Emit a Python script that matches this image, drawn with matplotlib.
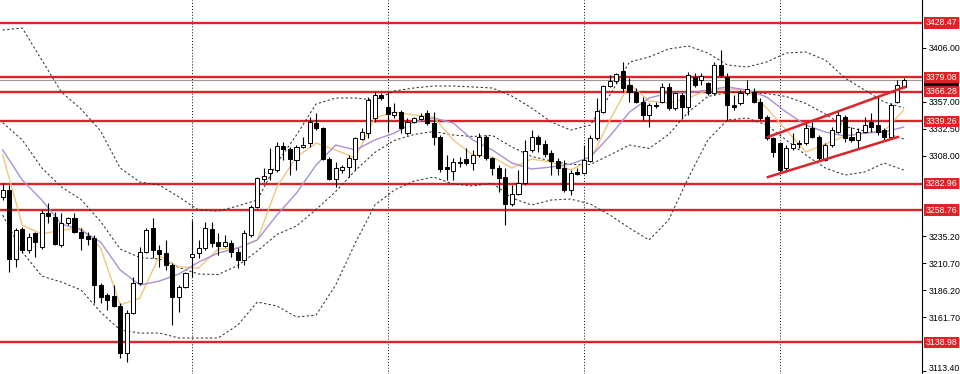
import numpy as np
import matplotlib
matplotlib.use("Agg")
import matplotlib.pyplot as plt
import matplotlib.transforms as mtransforms

plt.rcParams['font.family'] = ['Liberation Sans', 'DejaVu Sans']

# daily candles (open, high, low, close)
opens = [3270.7, 3277.1, 3214.5, 3241.7, 3222.7, 3238.1, 3225.4, 3256.2, 3252.6, 3227.2,
         3247.2, 3251.7, 3239.0, 3235.4, 3233.6, 3191.0, 3181.9, 3181.0, 3172.0, 3129.4,
         3165.6, 3192.8, 3220.9, 3242.6, 3222.7, 3220.0, 3209.1, 3180.1, 3189.2, 3216.4,
         3220.0, 3224.5, 3241.7, 3229.9, 3226.3, 3229.0, 3220.9, 3213.6, 3236.3, 3261.7,
         3287.0, 3292.5, 3295.2, 3316.9, 3314.2, 3304.2, 3316.0, 3319.6, 3337.8, 3333.2,
         3305.1, 3287.0, 3295.2, 3297.9, 3305.1, 3323.3, 3328.7, 3342.3, 3363.1, 3352.3,
         3345.0, 3347.7, 3328.7, 3338.7, 3341.4, 3346.8, 3337.8, 3325.1, 3297.9, 3294.3,
         3301.5, 3305.1, 3301.5, 3308.8, 3325.1, 3306.1, 3297.0, 3288.8, 3264.4, 3273.4,
         3283.4, 3313.3, 3325.1, 3318.7, 3310.6, 3303.3, 3297.0, 3277.1, 3293.4, 3292.5,
         3303.3, 3324.2, 3347.7, 3371.3, 3375.8, 3384.9, 3372.2, 3365.8, 3356.8, 3345.0,
         3354.1, 3356.8, 3370.4, 3351.4, 3363.1, 3352.3, 3379.4, 3376.7, 3374.0, 3364.9,
         3390.3, 3379.4, 3354.1, 3355.9, 3364.9, 3365.8, 3356.8, 3343.2, 3324.2, 3319.6,
         3297.0, 3315.1, 3319.6, 3319.6, 3333.2, 3325.1, 3304.2, 3317.8, 3329.6, 3343.2,
         3325.1, 3322.4, 3329.6, 3338.7, 3336.0, 3331.4, 3325.1, 3356.8, 3370.4]
highs = [3283.4, 3281.6, 3242.6, 3243.5, 3238.1, 3239.0, 3258.9, 3265.3, 3257.1, 3256.2,
         3252.6, 3256.2, 3242.6, 3239.0, 3236.3, 3192.8, 3183.7, 3191.0, 3174.7, 3168.3,
         3198.2, 3225.4, 3242.6, 3251.7, 3227.2, 3231.8, 3210.9, 3191.0, 3202.8, 3249.9,
         3231.8, 3248.1, 3248.1, 3238.1, 3236.3, 3231.8, 3224.5, 3240.8, 3263.5, 3288.8,
         3297.0, 3315.1, 3320.5, 3320.5, 3316.0, 3317.8, 3325.1, 3343.2, 3346.8, 3334.1,
         3307.0, 3302.4, 3299.7, 3308.8, 3325.1, 3333.2, 3361.3, 3365.8, 3364.9, 3365.8,
         3355.9, 3349.5, 3342.3, 3343.2, 3346.8, 3349.5, 3347.7, 3326.9, 3308.8, 3306.1,
         3307.0, 3315.1, 3313.3, 3328.7, 3326.9, 3307.0, 3299.7, 3297.0, 3281.6, 3295.2,
         3322.4, 3331.4, 3326.9, 3322.4, 3313.3, 3306.1, 3304.2, 3295.2, 3297.0, 3317.8,
         3326.9, 3360.4, 3372.2, 3381.2, 3383.1, 3393.0, 3378.5, 3369.5, 3361.3, 3355.9,
         3356.8, 3374.0, 3374.0, 3365.8, 3364.9, 3384.0, 3383.1, 3383.1, 3374.9, 3393.0,
         3403.9, 3383.1, 3363.1, 3367.7, 3376.7, 3369.5, 3360.4, 3345.0, 3325.1, 3320.5,
         3317.8, 3328.7, 3322.4, 3338.7, 3338.7, 3326.9, 3319.6, 3334.1, 3349.5, 3345.0,
         3334.1, 3333.2, 3343.2, 3346.8, 3360.4, 3333.2, 3355.9, 3376.7, 3378.5]
lows = [3268.0, 3202.8, 3207.3, 3220.0, 3220.0, 3216.4, 3223.6, 3247.2, 3227.2, 3225.4,
        3245.3, 3238.1, 3222.7, 3227.2, 3174.7, 3174.7, 3168.3, 3171.1, 3124.9, 3121.2,
        3164.7, 3191.0, 3220.0, 3215.5, 3207.3, 3204.6, 3154.7, 3166.5, 3188.3, 3198.2,
        3215.5, 3222.7, 3225.4, 3218.2, 3225.4, 3216.4, 3206.4, 3209.1, 3234.5, 3260.8,
        3284.3, 3286.1, 3293.4, 3304.2, 3290.6, 3295.2, 3315.1, 3316.0, 3331.4, 3304.2,
        3286.1, 3279.8, 3292.5, 3288.8, 3295.2, 3322.4, 3324.2, 3338.7, 3358.6, 3329.6,
        3342.3, 3328.7, 3326.9, 3337.8, 3340.5, 3335.9, 3317.8, 3293.4, 3286.1, 3286.1,
        3297.9, 3299.7, 3295.2, 3307.0, 3304.2, 3290.6, 3275.2, 3245.3, 3262.6, 3272.5,
        3281.6, 3311.5, 3311.5, 3307.0, 3290.6, 3290.6, 3275.2, 3272.5, 3290.6, 3291.6,
        3302.4, 3322.4, 3346.8, 3370.4, 3374.0, 3365.8, 3356.8, 3355.9, 3340.5, 3334.1,
        3351.4, 3355.9, 3349.5, 3349.5, 3342.3, 3345.0, 3370.4, 3372.2, 3363.1, 3363.1,
        3379.4, 3340.5, 3349.5, 3354.1, 3363.1, 3355.9, 3340.5, 3322.4, 3307.0, 3292.5,
        3293.4, 3313.3, 3315.1, 3317.8, 3324.2, 3304.2, 3303.3, 3316.0, 3328.7, 3320.5,
        3320.5, 3315.1, 3328.7, 3329.6, 3326.9, 3322.4, 3324.2, 3355.9, 3369.5]
closes = [3277.1, 3214.5, 3240.8, 3222.7, 3234.5, 3229.9, 3256.2, 3253.5, 3228.1, 3247.2,
          3251.7, 3239.0, 3233.6, 3232.7, 3191.0, 3180.1, 3177.4, 3172.0, 3129.4, 3165.6,
          3192.8, 3220.9, 3240.8, 3222.7, 3219.1, 3209.1, 3180.1, 3189.2, 3201.9, 3219.1,
          3224.5, 3242.6, 3229.0, 3226.3, 3229.9, 3220.9, 3213.6, 3238.1, 3261.7, 3287.9,
          3289.7, 3296.1, 3316.9, 3314.2, 3305.1, 3316.0, 3317.8, 3338.7, 3333.2, 3305.1,
          3287.0, 3297.0, 3297.9, 3306.1, 3324.2, 3329.6, 3358.6, 3363.1, 3360.4, 3345.9,
          3347.7, 3333.2, 3338.7, 3342.3, 3344.1, 3337.8, 3325.1, 3296.1, 3296.1, 3302.4,
          3302.4, 3301.5, 3308.8, 3325.1, 3306.1, 3297.0, 3287.9, 3264.4, 3273.4, 3283.4,
          3312.4, 3325.1, 3318.7, 3309.7, 3303.3, 3297.0, 3277.1, 3292.5, 3291.6, 3304.2,
          3324.2, 3348.6, 3371.3, 3375.8, 3382.2, 3369.5, 3365.8, 3356.8, 3345.0, 3354.1,
          3353.2, 3370.4, 3351.4, 3364.9, 3352.3, 3381.2, 3372.2, 3380.3, 3364.9, 3390.3,
          3381.2, 3354.1, 3352.3, 3364.9, 3368.6, 3356.8, 3342.3, 3324.2, 3311.5, 3295.2,
          3315.1, 3318.7, 3318.7, 3333.2, 3325.1, 3306.1, 3317.8, 3331.4, 3345.0, 3324.2,
          3322.4, 3329.6, 3336.0, 3334.1, 3329.6, 3325.1, 3354.1, 3372.2, 3376.7]

# indicator lines, read every third candle
line_idx = list(range(0, 139, 3))
bb_upper = [3422.0, 3423.8, 3394.8, 3365.8, 3350.4, 3330.5, 3297.0, 3284.3, 3281.6, 3270.7,
            3258.9, 3258.0, 3262.6, 3268.0, 3301.5, 3326.9, 3355.0, 3360.4, 3360.4, 3358.6,
            3366.8, 3369.5, 3371.3, 3371.3, 3370.4, 3369.5, 3362.2, 3351.4, 3338.7, 3331.4,
            3335.9, 3363.1, 3393.0, 3397.6, 3404.8, 3407.5, 3401.2, 3390.3, 3388.5, 3393.0,
            3401.2, 3402.1, 3394.8, 3378.5, 3367.7, 3356.8, 3351.4]
bb_middle = [3338.2, 3322.4, 3297.0, 3279.8, 3268.5, 3248.5, 3223.6, 3215.9, 3214.6, 3206.9,
             3201.0, 3200.5, 3208.7, 3221.8, 3236.8, 3244.5, 3259.4, 3275.7, 3294.7, 3311.1,
             3322.0, 3327.4, 3330.1, 3326.9, 3325.6, 3326.5, 3316.0, 3307.5, 3303.4, 3300.2,
             3300.2, 3308.8, 3317.8, 3314.7, 3327.4, 3347.7, 3361.8, 3365.4, 3365.4, 3364.5,
             3361.8, 3355.5, 3345.9, 3334.6, 3330.6, 3329.2, 3323.3]
bb_lower = [3254.4, 3220.9, 3199.1, 3193.7, 3186.5, 3166.5, 3150.2, 3147.5, 3147.5, 3143.0,
            3143.0, 3143.0, 3154.7, 3175.6, 3172.0, 3162.0, 3163.8, 3191.0, 3229.0, 3263.5,
            3277.1, 3285.2, 3288.8, 3282.5, 3280.7, 3283.4, 3269.8, 3263.5, 3268.0, 3268.9,
            3264.4, 3254.4, 3242.6, 3231.8, 3249.9, 3287.9, 3322.4, 3340.5, 3342.3, 3335.9,
            3322.4, 3308.8, 3297.0, 3290.6, 3293.4, 3301.5, 3295.2]
ma_fast = [3308.8, 3245.3, 3237.2, 3240.8, 3242.6, 3224.5, 3172.9, 3179.2, 3217.3, 3207.3,
           3206.4, 3223.6, 3224.5, 3231.8, 3279.8, 3307.0, 3319.6, 3313.3, 3306.1, 3342.3,
           3347.7, 3345.0, 3343.2, 3322.4, 3308.8, 3307.0, 3297.0, 3305.1, 3302.4, 3295.2,
           3304.2, 3340.5, 3373.1, 3357.7, 3355.9, 3360.4, 3367.7, 3368.6, 3367.7, 3351.4,
           3331.4, 3311.5, 3318.7, 3326.0, 3328.7, 3330.5, 3349.5]
ma_slow = [3313.3, 3286.1, 3268.0, 3246.3, 3240.8, 3229.9, 3204.6, 3191.0, 3194.6, 3201.0,
           3211.8, 3220.0, 3224.5, 3231.8, 3254.4, 3274.3, 3299.7, 3317.8, 3313.3, 3322.4,
           3328.7, 3338.7, 3342.3, 3337.8, 3322.4, 3313.3, 3301.5, 3296.1, 3297.9, 3300.6,
           3307.0, 3326.0, 3347.7, 3360.4, 3364.9, 3364.9, 3367.7, 3370.4, 3367.7, 3361.3,
           3347.7, 3335.9, 3329.6, 3326.0, 3328.7, 3329.6, 3334.1]

# horizontal support / resistance levels
levels = [3428.47, 3379.08, 3366.28, 3339.26, 3282.96, 3258.76, 3138.98]
# rising channel (start candle, end candle, start price, end price)
channel_upper = [117.2, 138.2, 3325.1, 3370.4]
channel_lower = [117.2, 137.1, 3288.8, 3325.1]

tick_values = [3406.00, 3357.00, 3332.50, 3308.00, 3235.20, 3210.70, 3186.20, 3161.70, 3113.40]
grid_candles = [29, 59, 89, 119]

RED = '#dd2228'

fig = plt.figure(figsize=(9.6, 3.74), dpi=100)
ax = fig.add_axes([0, 0, 922 / 960, 1])
ax.set_xlim(-0.41, 140.8)
ax.set_ylim(3110.4, 3449.2)

for g in grid_candles:
    ax.axvline(g, color='black', lw=0.7, ls=(0, (1, 2)), zorder=1)

for lv in levels:
    ax.axhline(lv, color=RED, lw=1.7, zorder=2)
last_price = closes[-1]
ax.axhline(last_price, color='#9a9a9a', lw=0.8, zorder=2)

# bollinger bands + moving averages
for band in (bb_upper, bb_middle, bb_lower):
    ax.plot(line_idx, band, color='#333333', lw=0.75, ls=(0, (2.2, 2.2)), zorder=3)
ax.plot(line_idx, ma_fast, color='#f0c67e', lw=1.0, zorder=4)
ax.plot(line_idx, ma_slow, color='#ab90d2', lw=1.0, zorder=4)

# candles
x = np.arange(len(closes))
o = np.array(opens)
c = np.array(closes)
ax.vlines(x, lows, highs, color='black', lw=0.8, zorder=5)
up = c >= o
body_lo = np.minimum(o, c)
body_h = np.maximum(np.abs(c - o), 0.6)
ax.bar(x[up], body_h[up], bottom=body_lo[up], width=0.62, color='white',
       edgecolor='black', lw=0.7, zorder=6)
ax.bar(x[~up], body_h[~up], bottom=body_lo[~up], width=0.62, color='black',
       edgecolor='black', lw=0.7, zorder=6)

ax.plot(channel_upper[:2], channel_upper[2:], color=RED, lw=1.8, zorder=7)
ax.plot(channel_lower[:2], channel_lower[2:], color=RED, lw=1.8, zorder=7)

# right price scale
for s in ['top', 'left', 'bottom']:
    ax.spines[s].set_visible(False)
ax.spines['right'].set_color('black')
ax.spines['right'].set_linewidth(0.8)
ax.set_xticks([])
ax.yaxis.tick_right()
ax.set_yticks(tick_values)
ax.set_yticklabels([f'{v:.2f}' for v in tick_values])
ax.tick_params(axis='y', direction='out', length=3, width=0.7, pad=2,
               labelsize=6.3, colors='black')
# keep the lowest label inside the picture
low_lab = ax.get_yticklabels()[-1]
low_lab.set_transform(low_lab.get_transform() +
                      mtransforms.ScaledTranslation(0, 2 / 72, fig.dpi_scale_trans))

trans = mtransforms.blended_transform_factory(ax.transAxes, ax.transData)
ax.text(1.004, last_price, f'{last_price:.2f}', transform=trans, va='center', ha='left',
        fontsize=6.3, color='white', clip_on=False,
        bbox=dict(boxstyle='square,pad=0.15', fc='#111111', ec='none'))
for lv in levels:
    ax.text(1.004, lv, f'{lv:.2f}', transform=trans, va='center', ha='left',
            fontsize=6.3, color='white', clip_on=False,
            bbox=dict(boxstyle='square,pad=0.15', fc=RED, ec='none'))

fig.savefig('out.png', dpi=100)
